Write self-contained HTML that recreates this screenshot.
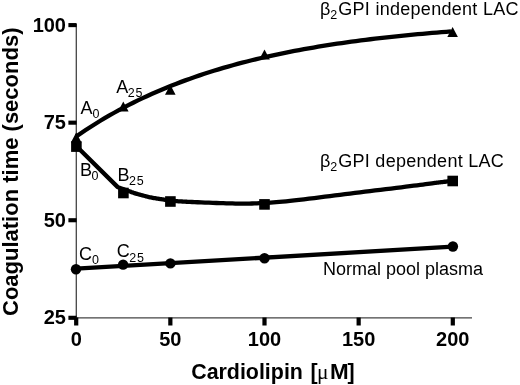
<!DOCTYPE html>
<html><head><meta charset="utf-8"><style>
html,body{margin:0;padding:0;background:#fff;}
svg{display:block;filter:grayscale(1);}
text{font-family:"Liberation Sans",sans-serif;fill:#000;}
.tk{font-weight:bold;font-size:20px;}
.ti{font-weight:bold;font-size:22px;}
.xt{font-weight:bold;font-size:21.4px;}
.lb{font-size:18px;}
.sub{font-size:12.5px;}
.mu{font-family:"Liberation Serif",serif;font-size:21.4px;}
</style></head><body>
<svg width="520" height="385" viewBox="0 0 520 385">
<rect width="520" height="385" fill="#fff"/>
<line x1="76.3" y1="24" x2="76.3" y2="318.6" stroke="#444" stroke-width="1.3"/><line x1="75.7" y1="317.95" x2="472" y2="317.95" stroke="#444" stroke-width="1.3"/><rect x="68.4" y="315.75" width="8.2" height="4.1"/><rect x="68.4" y="218.18" width="8.2" height="4.1"/><rect x="68.4" y="120.62" width="8.2" height="4.1"/><rect x="68.4" y="23.05" width="8.2" height="4.1"/><rect x="74.10" y="317.5" width="4.2" height="8"/><rect x="168.25" y="317.5" width="4.2" height="8"/><rect x="262.40" y="317.5" width="4.2" height="8"/><rect x="356.55" y="317.5" width="4.2" height="8"/><rect x="450.70" y="317.5" width="4.2" height="8"/>
<text x="66" y="324.40" text-anchor="end" class="tk">25</text><text x="66" y="226.83" text-anchor="end" class="tk">50</text><text x="66" y="129.27" text-anchor="end" class="tk">75</text><text x="66" y="31.70" text-anchor="end" class="tk">100</text>
<text x="76.20" y="346.3" text-anchor="middle" class="tk">0</text><text x="170.35" y="346.3" text-anchor="middle" class="tk">50</text><text x="264.50" y="346.3" text-anchor="middle" class="tk">100</text><text x="358.65" y="346.3" text-anchor="middle" class="tk">150</text><text x="452.80" y="346.3" text-anchor="middle" class="tk">200</text>
<text class="ti" transform="translate(17.8,316) rotate(-90)">Coagulation time (seconds)</text>
<text class="xt" x="191.2" y="378.8">Cardiolipin</text>
<text class="xt" x="310.4" y="378.8">[</text>
<text class="mu" x="317" y="378.9">&#956;</text>
<text class="xt" x="330.0" y="378.8" style="font-size:22.4px">M</text>
<text class="xt" x="347.6" y="378.8">]</text>
<g fill="none" stroke="#000" stroke-width="4.3" stroke-linejoin="round">
<path d="M76.20,136.49 L80.94,133.22 L85.69,130.05 L90.43,126.96 L95.18,123.95 L99.92,121.03 L104.67,118.19 L109.41,115.43 L114.15,112.75 L118.90,110.14 L123.64,107.60 L128.39,105.14 L133.13,102.74 L137.88,100.41 L142.62,98.14 L147.36,95.93 L152.11,93.79 L156.85,91.71 L161.60,89.68 L166.34,87.71 L171.09,85.80 L175.83,83.93 L180.57,82.12 L185.32,80.36 L190.06,78.65 L194.81,76.99 L199.55,75.37 L204.30,73.80 L209.04,72.27 L213.78,70.78 L218.53,69.34 L223.27,67.93 L228.02,66.56 L232.76,65.23 L237.51,63.94 L242.25,62.69 L246.99,61.46 L251.74,60.28 L256.48,59.12 L261.23,58.00 L265.97,56.91 L270.72,55.85 L275.46,54.82 L280.21,53.81 L284.95,52.84 L289.69,51.89 L294.44,50.97 L299.18,50.07 L303.93,49.20 L308.67,48.35 L313.42,47.53 L318.16,46.73 L322.90,45.95 L327.65,45.19 L332.39,44.46 L337.14,43.74 L341.88,43.04 L346.63,42.37 L351.37,41.71 L356.11,41.07 L360.86,40.45 L365.60,39.84 L370.35,39.25 L375.09,38.68 L379.84,38.13 L384.58,37.59 L389.32,37.06 L394.07,36.55 L398.81,36.05 L403.56,35.57 L408.30,35.10 L413.05,34.65 L417.79,34.20 L422.53,33.77 L427.28,33.35 L432.02,32.94 L436.77,32.55 L441.51,32.16 L446.26,31.79 L451.00,31.42"/>
<path d="M76.2,146 L117.50,186.90 L118.17,187.16 L118.82,187.41 L119.45,187.65 L120.09,187.90 L120.75,188.15 L121.45,188.42 L122.19,188.70 L123.00,189.00 L123.90,189.33 L124.89,189.70 L125.95,190.08 L127.03,190.47 L128.11,190.87 L129.15,191.24 L130.13,191.59 L131.00,191.90 L131.73,192.16 L132.34,192.39 L132.88,192.58 L133.38,192.76 L133.89,192.94 L134.47,193.13 L135.16,193.35 L136.00,193.60 L137.05,193.90 L138.29,194.24 L139.65,194.61 L141.06,194.99 L142.47,195.37 L143.80,195.72 L145.00,196.04 L146.00,196.30 L146.76,196.50 L147.33,196.66 L147.76,196.78 L148.12,196.88 L148.47,196.97 L148.86,197.06 L149.35,197.17 L150.00,197.30 L150.82,197.46 L151.77,197.63 L152.79,197.82 L153.88,198.01 L154.97,198.19 L156.05,198.38 L157.07,198.55 L158.00,198.70 L158.80,198.83 L159.50,198.95 L160.13,199.05 L160.75,199.14 L161.40,199.24 L162.12,199.34 L162.98,199.46 L164.00,199.60 L165.24,199.77 L166.67,199.96 L168.24,200.16 L169.88,200.38 L171.53,200.58 L173.14,200.78 L174.65,200.96 L176.00,201.10 L177.19,201.21 L178.28,201.30 L179.29,201.37 L180.25,201.42 L181.18,201.46 L182.09,201.51 L183.03,201.55 L184.00,201.60 L184.86,201.65 L185.53,201.69 L186.12,201.73 L186.75,201.76 L187.54,201.80 L188.59,201.85 L190.04,201.92 L192.00,202.00 L194.57,202.11 L197.69,202.24 L201.21,202.39 L205.00,202.54 L208.91,202.70 L212.81,202.85 L216.55,202.99 L220.00,203.10 L223.21,203.20 L226.35,203.30 L229.42,203.38 L232.44,203.46 L235.40,203.53 L238.30,203.57 L241.17,203.60 L244.00,203.60 L246.74,203.58 L249.37,203.54 L251.92,203.48 L254.44,203.41 L256.96,203.31 L259.54,203.19 L262.20,203.06 L265.00,202.90 L267.83,202.73 L270.62,202.56 L273.42,202.37 L276.31,202.16 L279.35,201.91 L282.60,201.63 L286.13,201.29 L290.00,200.90 L294.28,200.44 L298.95,199.90 L303.90,199.31 L309.06,198.69 L314.34,198.04 L319.65,197.38 L324.90,196.73 L330.00,196.10 L335.00,195.48 L340.00,194.86 L345.00,194.24 L350.00,193.61 L355.00,192.98 L360.00,192.35 L365.00,191.72 L370.00,191.10 L375.12,190.47 L380.42,189.82 L385.79,189.17 L391.12,188.52 L396.32,187.89 L401.27,187.28 L405.86,186.72 L410.00,186.20 L413.71,185.73 L417.09,185.29 L420.18,184.88 L423.00,184.51 L425.57,184.16 L427.91,183.84 L430.04,183.56 L432.00,183.30 L433.66,183.08 L434.94,182.92 L435.94,182.79 L436.75,182.69 L437.47,182.60 L438.19,182.51 L439.00,182.42 L440.00,182.30 L441.15,182.17 L442.36,182.03 L443.60,181.89 L444.88,181.76 L446.16,181.62 L447.45,181.48 L448.74,181.34 L450.00,181.20"/>
<path d="M76.20,268.60 L452.80,246.70"/>
</g>
<g fill="#000">
<path d="M76.20,132.50 L81.50,142.50 L70.90,142.50 Z"/><path d="M123.30,101.50 L128.60,111.50 L118.00,111.50 Z"/><path d="M170.30,84.80 L175.60,94.80 L165.00,94.80 Z"/><path d="M264.50,49.60 L269.80,59.60 L259.20,59.60 Z"/><path d="M452.60,27.10 L457.90,37.10 L447.30,37.10 Z"/>
<rect x="71.10" y="141.30" width="10.6" height="10.6"/><rect x="118.10" y="187.70" width="10.6" height="10.6"/><rect x="165.10" y="196.20" width="10.6" height="10.6"/><rect x="259.20" y="199.10" width="10.6" height="10.6"/><rect x="447.40" y="175.70" width="10.6" height="10.6"/>
<circle cx="76.00" cy="269.20" r="5.2"/><circle cx="123.10" cy="264.60" r="5.2"/><circle cx="170.40" cy="263.40" r="5.2"/><circle cx="264.50" cy="258.20" r="5.2"/><circle cx="452.90" cy="246.50" r="5.2"/>
</g>
<text class="lb" x="320" y="14.6">&#946;<tspan class="sub" dy="4">2</tspan><tspan dx="0.9" dy="-4" textLength="180.3" lengthAdjust="spacing">GPI independent LAC</tspan></text>
<text class="lb" x="320" y="166.5">&#946;<tspan class="sub" dy="4">2</tspan><tspan dx="0.9" dy="-4" textLength="165.6" lengthAdjust="spacing">GPI dependent LAC</tspan></text>
<text class="lb" x="323" y="275">Normal pool plasma</text>
<text class="lb" x="80.5" y="113.8">A<tspan class="sub" dy="4">0</tspan></text>
<text class="lb" x="116.2" y="93.1">A<tspan class="sub" dx="-0.5" dy="4.3" style="letter-spacing:0.9px">25</tspan></text>
<text class="lb" x="80" y="175.7">B<tspan class="sub" dx="-0.6" dy="4">0</tspan></text>
<text class="lb" x="117.4" y="181">B<tspan class="sub" dx="-0.5" dy="4.3" style="letter-spacing:0.9px">25</tspan></text>
<text class="lb" x="79" y="259.9">C<tspan class="sub" dy="4">0</tspan></text>
<text class="lb" x="116.7" y="257.2">C<tspan class="sub" dx="-0.5" dy="4.3" style="letter-spacing:0.9px">25</tspan></text>
</svg>
</body></html>
